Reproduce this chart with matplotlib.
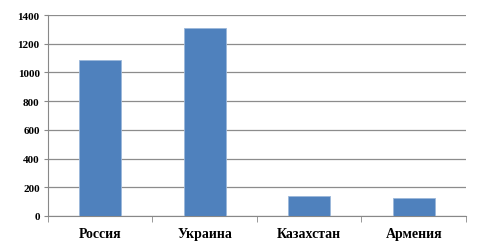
import matplotlib.pyplot as plt

# данные
strany = ['Россия', 'Украина', 'Казахстан', 'Армения']
znacheniya = [1090, 1310, 140, 125]

plt.rcParams['font.family'] = ['Liberation Serif', 'DejaVu Serif']

fig = plt.figure(figsize=(4.85, 2.53), dpi=100)
ax = fig.add_axes([48 / 485, 1 - 217 / 253, 418 / 485, 201 / 253])

x = range(len(strany))
ax.bar(x, znacheniya, width=0.4, color='#4F81BD', edgecolor='#9BB7DA', linewidth=0.6, zorder=3)

ax.set_xlim(-0.5, len(strany) - 0.5)
ax.set_ylim(0, 1400)
ax.set_yticks(range(0, 1401, 200))
ax.set_yticklabels([str(v) for v in range(0, 1401, 200)], fontsize=8, fontweight='bold')

ax.set_xticks(list(x))
ax.set_xticklabels(strany, fontsize=10, fontweight='bold')
ax.tick_params(axis='x', length=0, pad=8)
ax.set_xticks([i - 0.5 for i in range(len(strany) + 1)], minor=True)
ax.tick_params(axis='x', which='minor', length=4, color='#888888', direction='out')
ax.tick_params(axis='y', length=3, color='#888888', pad=3)

ax.grid(axis='y', color='#8C8C8C', linewidth=0.9, zorder=0)
for s in ['top', 'right']:
    ax.spines[s].set_visible(False)
ax.spines['left'].set_color('#888888')
ax.spines['bottom'].set_color('#888888')

fig.savefig('out.png', dpi=100)
